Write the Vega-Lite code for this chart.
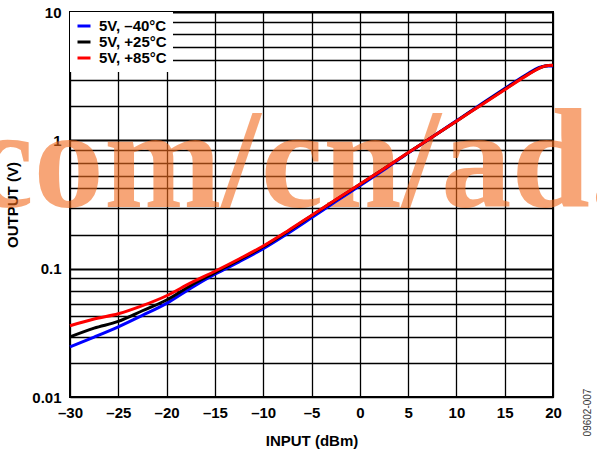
{
  "$schema": "https://vega.github.io/schema/vega-lite/v6.json",
  "width": 483,
  "height": 385,
  "autosize": "none",
  "padding": {"left": 70, "top": 12, "right": 44, "bottom": 58},
  "background": "white",
  "config": {
    "view": {"stroke": "black", "strokeWidth": 2},
    "font": "Liberation Sans"
  },
  "resolve": {"axis": {"y": "independent"}},
  "layer": [
    {
      "data": {"values": [{"label": "com/cn/ad."}]},
      "mark": {"type": "text", "font": "Liberation Serif", "fontWeight": "bold", "fontSize": 141, "align": "center", "baseline": "alphabetic", "color": "#F26B1D", "opacity": 0.6},
      "encoding": {
        "x": {"datum": -6.39, "type": "quantitative", "scale": {"domain": [-30, 20], "nice": false, "zero": false},
          "axis": {"values": [-30, -25, -20, -15, -10, -5, 0, 5, 10, 15, 20],
            "grid": true, "gridColor": "black", "gridWidth": 1.3, "gridOpacity": 1,
            "domain": false, "ticks": false,
            "labelFont": "Liberation Sans", "labelFontWeight": "bold", "labelFontSize": 15, "labelColor": "black",
            "labelPadding": 8, "labelFlush": false, "labelOverlap": false,
            "labelExpr": "datum.value < 0 ? '–' + abs(datum.value) : '' + datum.value",
            "title": "INPUT (dBm)", "titleFont": "Liberation Sans", "titleFontSize": 15, "titleFontWeight": "bold",
            "titleColor": "black", "titlePadding": 13}},
        "y": {"datum": 0.3, "type": "quantitative", "scale": {"type": "log", "domain": [0.01, 10], "nice": false},
          "axis": {"orient": "right", "title": "09602-007", "labels": false, "ticks": false, "domain": false, "grid": false,
            "titleX": 34, "titleY": 400, "titleAngle": 270, "titleAlign": "center", "titleBaseline": "middle",
            "titleFont": "Liberation Sans", "titleFontSize": 10, "titleFontWeight": "normal", "titleColor": "#333333"}},
        "text": {"field": "label"}
      }
    },
    {
      "data": {"values": [
        {"series": "5V, –40°C", "input": -30, "output": 0.0246},
        {"series": "5V, –40°C", "input": -27.5, "output": 0.0293},
        {"series": "5V, –40°C", "input": -25, "output": 0.0352},
        {"series": "5V, –40°C", "input": -22.5, "output": 0.0433},
        {"series": "5V, –40°C", "input": -20, "output": 0.0537},
        {"series": "5V, –40°C", "input": -17.5, "output": 0.0705},
        {"series": "5V, –40°C", "input": -15, "output": 0.0905},
        {"series": "5V, –40°C", "input": -12.5, "output": 0.113},
        {"series": "5V, –40°C", "input": -10, "output": 0.143},
        {"series": "5V, –40°C", "input": -7.5, "output": 0.187},
        {"series": "5V, –40°C", "input": -5, "output": 0.249},
        {"series": "5V, –40°C", "input": -2.5, "output": 0.333},
        {"series": "5V, –40°C", "input": 0, "output": 0.443},
        {"series": "5V, –40°C", "input": 2.5, "output": 0.59},
        {"series": "5V, –40°C", "input": 5, "output": 0.795},
        {"series": "5V, –40°C", "input": 7.5, "output": 1.06},
        {"series": "5V, –40°C", "input": 10, "output": 1.42},
        {"series": "5V, –40°C", "input": 12.5, "output": 1.9},
        {"series": "5V, –40°C", "input": 15, "output": 2.53},
        {"series": "5V, –40°C", "input": 17.5, "output": 3.35},
        {"series": "5V, –40°C", "input": 18.5, "output": 3.68},
        {"series": "5V, –40°C", "input": 19.2, "output": 3.8},
        {"series": "5V, –40°C", "input": 20, "output": 3.8},
        {"series": "5V, +25°C", "input": -30, "output": 0.0294},
        {"series": "5V, +25°C", "input": -27.5, "output": 0.0344},
        {"series": "5V, +25°C", "input": -25, "output": 0.0388},
        {"series": "5V, +25°C", "input": -22.5, "output": 0.047},
        {"series": "5V, +25°C", "input": -20, "output": 0.057},
        {"series": "5V, +25°C", "input": -17.5, "output": 0.074},
        {"series": "5V, +25°C", "input": -15, "output": 0.093},
        {"series": "5V, +25°C", "input": -12.5, "output": 0.117},
        {"series": "5V, +25°C", "input": -10, "output": 0.148},
        {"series": "5V, +25°C", "input": -7.5, "output": 0.194},
        {"series": "5V, +25°C", "input": -5, "output": 0.258},
        {"series": "5V, +25°C", "input": -2.5, "output": 0.343},
        {"series": "5V, +25°C", "input": 0, "output": 0.453},
        {"series": "5V, +25°C", "input": 2.5, "output": 0.6},
        {"series": "5V, +25°C", "input": 5, "output": 0.8},
        {"series": "5V, +25°C", "input": 7.5, "output": 1.06},
        {"series": "5V, +25°C", "input": 10, "output": 1.41},
        {"series": "5V, +25°C", "input": 12.5, "output": 1.88},
        {"series": "5V, +25°C", "input": 15, "output": 2.5},
        {"series": "5V, +25°C", "input": 17.5, "output": 3.3},
        {"series": "5V, +25°C", "input": 18.5, "output": 3.64},
        {"series": "5V, +25°C", "input": 19.2, "output": 3.8},
        {"series": "5V, +25°C", "input": 20, "output": 3.84},
        {"series": "5V, +85°C", "input": -30, "output": 0.0359},
        {"series": "5V, +85°C", "input": -27.5, "output": 0.0405},
        {"series": "5V, +85°C", "input": -25, "output": 0.0445},
        {"series": "5V, +85°C", "input": -22.5, "output": 0.0515},
        {"series": "5V, +85°C", "input": -20, "output": 0.0615},
        {"series": "5V, +85°C", "input": -17.5, "output": 0.0775},
        {"series": "5V, +85°C", "input": -15, "output": 0.0955},
        {"series": "5V, +85°C", "input": -12.5, "output": 0.119},
        {"series": "5V, +85°C", "input": -10, "output": 0.15},
        {"series": "5V, +85°C", "input": -7.5, "output": 0.196},
        {"series": "5V, +85°C", "input": -5, "output": 0.26},
        {"series": "5V, +85°C", "input": -2.5, "output": 0.345},
        {"series": "5V, +85°C", "input": 0, "output": 0.455},
        {"series": "5V, +85°C", "input": 2.5, "output": 0.6},
        {"series": "5V, +85°C", "input": 5, "output": 0.8},
        {"series": "5V, +85°C", "input": 7.5, "output": 1.06},
        {"series": "5V, +85°C", "input": 10, "output": 1.41},
        {"series": "5V, +85°C", "input": 12.5, "output": 1.87},
        {"series": "5V, +85°C", "input": 15, "output": 2.48},
        {"series": "5V, +85°C", "input": 17.5, "output": 3.28},
        {"series": "5V, +85°C", "input": 18.5, "output": 3.62},
        {"series": "5V, +85°C", "input": 19.2, "output": 3.8},
        {"series": "5V, +85°C", "input": 20, "output": 3.84}
      ]},
      "mark": {"type": "line", "strokeWidth": 3, "interpolate": "monotone"},
      "encoding": {
        "x": {"field": "input", "type": "quantitative",
          "scale": {"domain": [-30, 20], "nice": false, "zero": false},
          "axis": {"values": [-30, -25, -20, -15, -10, -5, 0, 5, 10, 15, 20],
            "grid": true, "gridColor": "black", "gridWidth": 1.3, "gridOpacity": 1,
            "domain": false, "ticks": false,
            "labelFont": "Liberation Sans", "labelFontWeight": "bold", "labelFontSize": 15, "labelColor": "black",
            "labelPadding": 8, "labelFlush": false, "labelOverlap": false,
            "labelExpr": "datum.value < 0 ? '–' + abs(datum.value) : '' + datum.value",
            "title": "INPUT (dBm)", "titleFont": "Liberation Sans", "titleFontSize": 15, "titleFontWeight": "bold",
            "titleColor": "black", "titlePadding": 13}},
        "y": {"field": "output", "type": "quantitative",
          "scale": {"type": "log", "domain": [0.01, 10], "nice": false},
          "axis": {"orient": "left",
            "values": [10, 8.43, 6.71, 5.3, 4.25, 2.96, 1.844, 1, 0.843, 0.671, 0.53, 0.425, 0.296, 0.1844, 0.1, 0.0843, 0.0671, 0.053, 0.0425, 0.0296, 0.01844, 0.01],
            "grid": true, "gridColor": "black", "gridOpacity": 1,
            "gridWidth": {"condition": {"test": "datum.value == 1 || datum.value == 0.1 || datum.value == 10", "value": 2.2}, "value": 1.3},
            "domain": false, "ticks": false,
            "labelFont": "Liberation Sans", "labelFontWeight": "bold", "labelFontSize": 15, "labelColor": "black",
            "labelPadding": 9, "labelFlush": false, "labelOverlap": false,
            "labelExpr": "datum.value == 10 ? '10' : datum.value == 1 ? '1' : datum.value == 0.1 ? '0.1' : datum.value == 0.01 ? '0.01' : ''",
            "title": "OUTPUT (V)", "titleFont": "Liberation Sans", "titleFontSize": 15, "titleFontWeight": "bold",
            "titleColor": "black", "titlePadding": 11}},
        "color": {"field": "series", "type": "nominal",
          "sort": ["5V, –40°C", "5V, +25°C", "5V, +85°C"],
          "scale": {"domain": ["5V, –40°C", "5V, +25°C", "5V, +85°C"], "range": ["#0000FF", "#000000", "#FF0000"]},
          "legend": {"orient": "top-left", "offset": 0, "padding": 6, "fillColor": "white", "title": null,
            "symbolType": "stroke", "symbolSize": 169, "symbolStrokeWidth": 3,
            "labelFont": "Liberation Sans", "labelFontWeight": "bold", "labelFontSize": 15, "labelColor": "black",
            "labelOffset": 7, "rowPadding": -1}}
      }
    }
  ]
}
